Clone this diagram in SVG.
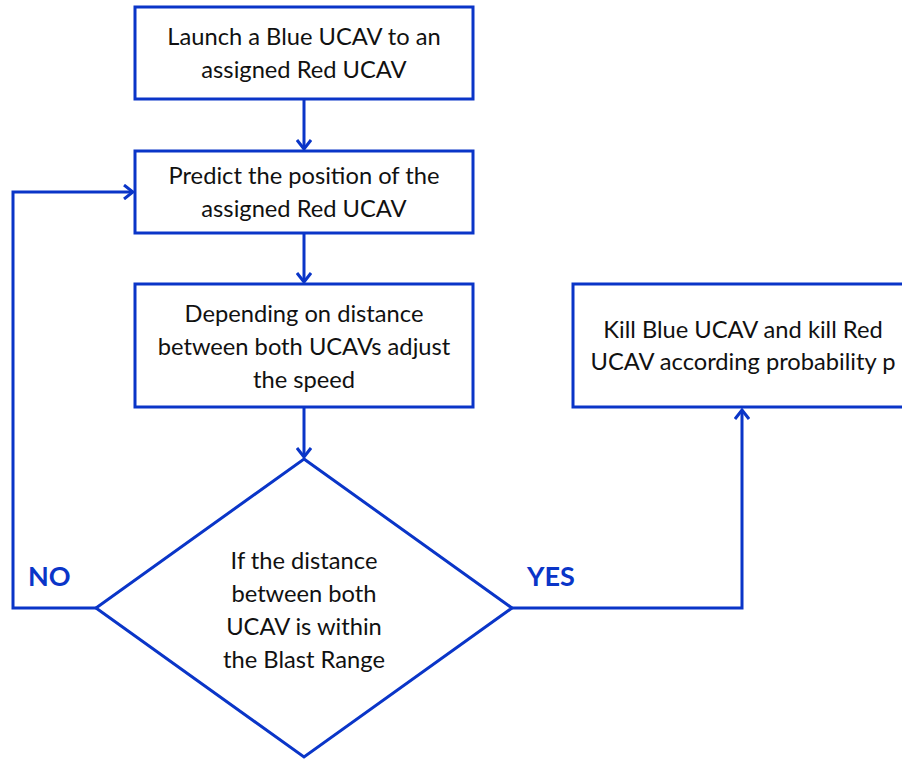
<svg xmlns="http://www.w3.org/2000/svg" width="902" height="759" viewBox="0 0 902 759">
  <style>
    .box { fill: #ffffff; stroke: #0a35c8; stroke-width: 3; }
    .edge { fill: none; stroke: #0a35c8; stroke-width: 3; }
    .label { font-family: Lato, "Liberation Sans", sans-serif; font-size: 23.7px; fill: #111111; text-anchor: middle; }
    .branch { font-family: Lato, "Liberation Sans", sans-serif; font-size: 27px; font-weight: bold; fill: #0a35c8; }
  </style>
  <defs>
    <marker id="chevron" viewBox="0 0 12 16" refX="10" refY="8" markerWidth="12" markerHeight="16" markerUnits="userSpaceOnUse" orient="auto">
      <path d="M1,1 L10,8 L1,15" fill="none" stroke="#0a35c8" stroke-width="3"/>
    </marker>
  </defs>
  <rect width="902" height="759" fill="#ffffff"/>

  <g id="connectors">
    <path class="edge" d="M304,99 V149" marker-end="url(#chevron)"/>
    <path class="edge" d="M304,233 V282" marker-end="url(#chevron)"/>
    <path class="edge" d="M304,407 V457" marker-end="url(#chevron)"/>
    <path class="edge" d="M96,608 H13 V192 H133" marker-end="url(#chevron)"/>
    <path class="edge" d="M512,608 H742 V410" marker-end="url(#chevron)"/>
  </g>

  <g id="launch">
    <rect class="box" x="135" y="7" width="338" height="92"/>
    <text class="label" x="304" y="45">Launch a Blue UCAV to an</text>
    <text class="label" x="304" y="78">assigned Red UCAV</text>
  </g>

  <g id="predict">
    <rect class="box" x="135" y="151" width="338" height="82"/>
    <text class="label" x="304" y="184">Predict the position of the</text>
    <text class="label" x="304" y="217">assigned Red UCAV</text>
  </g>

  <g id="adjust">
    <rect class="box" x="135" y="284" width="338" height="123"/>
    <text class="label" x="304" y="322">Depending on distance</text>
    <text class="label" x="304" y="355">between both UCAVs adjust</text>
    <text class="label" x="304" y="388">the speed</text>
  </g>

  <g id="decision">
    <polygon class="box" points="304,459 512,608 304,757 96,608"/>
    <text class="label" x="304" y="569">If the distance</text>
    <text class="label" x="304" y="602">between both</text>
    <text class="label" x="304" y="635">UCAV is within</text>
    <text class="label" x="304" y="668">the Blast Range</text>
  </g>

  <g id="kill">
    <rect class="box" x="573" y="284" width="340" height="123"/>
    <text class="label" x="743" y="338">Kill Blue UCAV and kill Red</text>
    <text class="label" x="743" y="370">UCAV according probability p</text>
  </g>

  <g id="branch-labels">
    <text class="branch" x="28" y="586">NO</text>
    <text class="branch" x="527" y="586">YES</text>
  </g>
</svg>
